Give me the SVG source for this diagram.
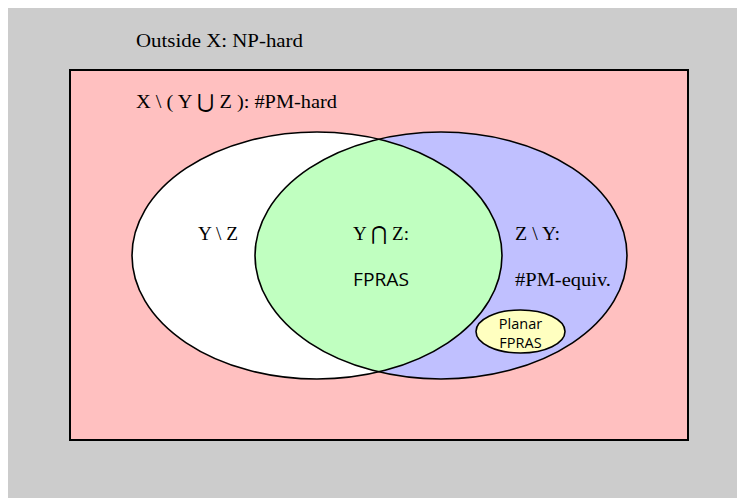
<svg xmlns="http://www.w3.org/2000/svg" width="737" height="498" viewBox="0 0 737 498">
<style>
.s{font-family:"Liberation Serif","DejaVu Serif",serif;font-size:18.5px;fill:#000}
.ss{font-family:"Open Sans","DejaVu Sans",sans-serif;font-size:18px;fill:#000}
.sm{font-family:"Open Sans","DejaVu Sans",sans-serif;font-size:14.5px;fill:#000}
.b{stroke:#000;stroke-width:1.6}
</style>
<rect x="0" y="0" width="737" height="498" fill="#ffffff"/>
<g id="outside">
<rect x="8" y="8" width="729" height="490" fill="#cccccc"/>
<text class="s" x="136" y="47" textLength="167" lengthAdjust="spacingAndGlyphs">Outside X: NP-hard</text>
</g>
<g id="X">
<rect x="70" y="70" width="618" height="370" fill="#ffc0c0" stroke="#000" stroke-width="2"/>
<text class="s" x="136" y="108" textLength="201" lengthAdjust="spacingAndGlyphs">X \ ( Y ⋃ Z ): #PM-hard</text>
</g>
<g id="Z">
<ellipse cx="441" cy="255.5" rx="186" ry="123.5" fill="#c0c0ff"/>
</g>
<g id="Y">
<ellipse cx="317" cy="255.5" rx="185" ry="123.5" fill="#ffffff"/>
</g>
<g id="YZ">
<clipPath id="cy"><ellipse cx="317" cy="255.5" rx="185" ry="123.5"/></clipPath>
<ellipse cx="441" cy="255.5" rx="186" ry="123.5" fill="#c0ffc0" clip-path="url(#cy)"/>
<ellipse cx="317" cy="255.5" rx="185" ry="123.5" fill="none" class="b"/>
<ellipse cx="441" cy="255.5" rx="186" ry="123.5" fill="none" class="b"/>
<text class="s" x="198" y="240" textLength="40" lengthAdjust="spacingAndGlyphs">Y \ Z</text>
<text class="s" x="353" y="240" textLength="56" lengthAdjust="spacingAndGlyphs">Y ⋂ Z:</text>
<text class="ss" x="353" y="286" textLength="56" lengthAdjust="spacingAndGlyphs">FPRAS</text>
<text class="s" x="515" y="240" textLength="45" lengthAdjust="spacingAndGlyphs">Z \ Y:</text>
<text class="s" x="515" y="286" textLength="96" lengthAdjust="spacingAndGlyphs">#PM-equiv.</text>
</g>
<g id="planar">
<ellipse cx="520.5" cy="331.5" rx="44.5" ry="21.5" fill="#ffffc0" class="b"/>
<text class="sm" x="520.5" y="329" text-anchor="middle">Planar</text>
<text class="sm" x="520.5" y="347.5" text-anchor="middle">FPRAS</text>
</g>
<g id="connectors"/>
</svg>
